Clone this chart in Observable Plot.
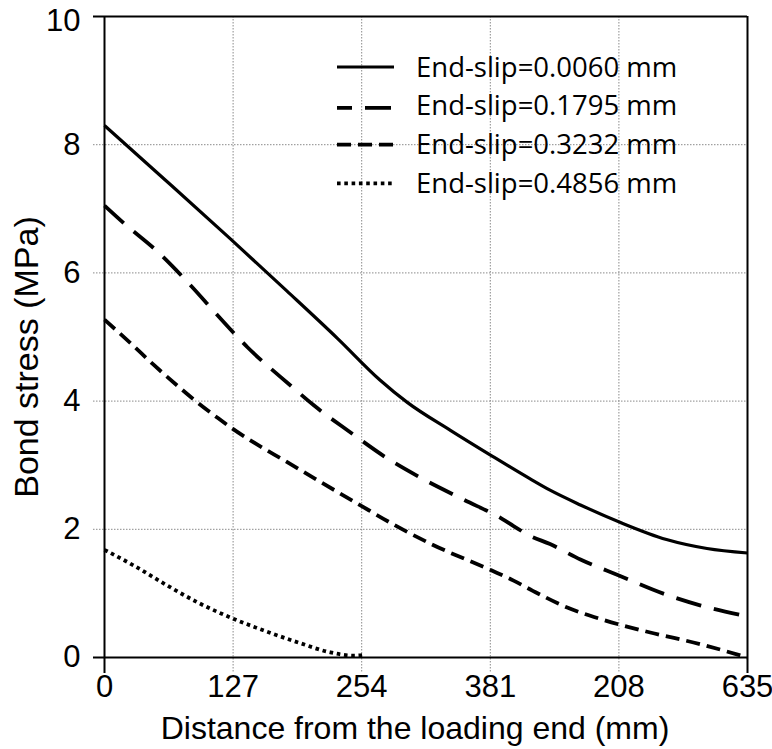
<!DOCTYPE html>
<html>
<head>
<meta charset="utf-8">
<script src="https://cdn.jsdelivr.net/npm/d3@7"></script>
<script src="https://cdn.jsdelivr.net/npm/@observablehq/plot@0.6"></script>
<style>
  html, body { margin: 0; padding: 0; background: white; }
  #chart { position: relative; width: 772px; height: 749px; }
</style>
</head>
<body>
<div id="chart"></div>
<script>
// ---- data ----
const xTicks = [0, 127, 254, 381, 508, 635];
const xTickLabels = ["0", "127", "254", "381", "208", "635"];
const yTicks = [0, 2, 4, 6, 8, 10];

const seriesNames = ["End-slip=0.0060 mm", "End-slip=0.1795 mm", "End-slip=0.3232 mm", "End-slip=0.4856 mm"];

const solidX = [0, 60, 123, 180, 230, 272, 299, 342, 382, 420, 440, 470, 509, 555, 595, 635];
const solidY = [8.3, 7.45, 6.55, 5.72, 4.98, 4.33, 3.98, 3.54, 3.15, 2.79, 2.61, 2.38, 2.11, 1.84, 1.70, 1.63];

const longX = [0, 19.5, 52.5, 83.6, 111.6, 141.2, 184, 207, 243, 278, 315, 355, 393, 404, 420, 440, 470, 508, 553, 589, 635];
const longY = [7.05, 6.77, 6.33, 5.83, 5.34, 4.84, 4.24, 3.93, 3.51, 3.12, 2.78, 2.46, 2.16, 2.05, 1.9, 1.77, 1.53, 1.28, 0.99, 0.81, 0.64];

const shortX = [0, 26, 49, 72, 88.5, 111.6, 126.4, 151, 177, 210, 251, 286, 324, 382, 404, 423, 457, 490, 539, 588, 635];
const shortY = [5.27, 4.9, 4.56, 4.24, 4.02, 3.74, 3.57, 3.32, 3.08, 2.77, 2.39, 2.07, 1.76, 1.36, 1.2, 1.04, 0.78, 0.60, 0.39, 0.21, 0.0];

const dotX = [0, 29.4, 62.3, 91.9, 126.4, 157.6, 192, 223, 246, 257];
const dotY = [1.68, 1.43, 1.12, 0.86, 0.61, 0.42, 0.23, 0.08, 0.03, 0.04];

const xTitle = "Distance from the loading end (mm)";
const yTitle = "Bond stress (MPa)";

// ---- build tables ----
const toRows = (xs, ys) => xs.map((x, i) => ({x, y: ys[i]}));
const styles = [
  {strokeWidth: 3.2, strokeDasharray: null},
  {strokeWidth: 3.8, strokeDasharray: "26,13"},
  {strokeWidth: 3.8, strokeDasharray: "14,7"},
  {strokeWidth: 3.8, strokeDasharray: "3.6,3.7"}
];
const seriesData = [toRows(solidX, solidY), toRows(longX, longY), toRows(shortX, shortY), toRows(dotX, dotY)];

const gridStyle = {stroke: "#8a8a8a", strokeWidth: 1, strokeDasharray: "1.5,1.5"};

const lineMarks = seriesData.map((rows, i) => Plot.line(rows, {
  x: "x", y: "y", curve: "monotone-x", stroke: "black",
  strokeWidth: styles[i].strokeWidth,
  strokeDasharray: styles[i].strokeDasharray,
  strokeLinecap: "butt", strokeLinejoin: "round"
}));

const yAxisOpts = {tickSize: 0, tickPadding: 24, fontSize: 31, label: null, tickFormat: d => String(d)};

const plot = Plot.plot({
  width: 772, height: 749,
  marginLeft: 104, marginRight: 25, marginTop: 16, marginBottom: 92,
  x: {domain: [0, 635]},
  y: {domain: [0, 10]},
  style: {fontFamily: "'Liberation Sans', Arial, sans-serif", background: "white", overflow: "visible", color: "black"},
  marks: [
    Plot.ruleX(xTicks.slice(1, -1), {...gridStyle, insetBottom: -16}),
    Plot.ruleY(yTicks.slice(1, -1), {...gridStyle, insetLeft: -11}),
    ...lineMarks,
    Plot.ruleX([xTicks[0], xTicks[xTicks.length - 1]], {stroke: "black", strokeWidth: 2, insetBottom: -16}),
    Plot.ruleY([yTicks[0], yTicks[yTicks.length - 1]], {stroke: "black", strokeWidth: 2, insetLeft: -11}),
    Plot.axisX(xTicks, {tickSize: 0, tickPadding: 17, fontSize: 31, label: null,
      tickFormat: d => xTickLabels[xTicks.indexOf(d)]}),
    Plot.axisY(yTicks.slice(0, -1), yAxisOpts),
    Plot.axisY(yTicks.slice(-1), {...yAxisOpts, dy: 5}),
    Plot.text([xTitle], {text: d => d, frameAnchor: "bottom", dx: -11, dy: 81, lineAnchor: "bottom", fontSize: 32}),
    Plot.text([yTitle], {text: d => d, frameAnchor: "left", textAnchor: "middle", rotate: -90, dx: -77, dy: 20, lineAnchor: "middle", fontSize: 34})
  ]
});
document.getElementById("chart").appendChild(plot);

// ---- legend (inside plot area, top right) ----
const svg = d3.select(plot);
const lg = svg.append("g").attr("class", "legend").attr("text-anchor", "start");
const rowY0 = 67, rowStep = 38.8;
seriesNames.forEach((name, i) => {
  const cy = rowY0 + i * rowStep;
  lg.append("line")
    .attr("x1", 337).attr("x2", 394).attr("y1", cy + (i === 1 ? 2 : 0)).attr("y2", cy + (i === 1 ? 2 : 0))
    .attr("stroke", "black")
    .attr("stroke-width", styles[i].strokeWidth)
    .attr("stroke-dasharray", styles[i].strokeDasharray)
    .attr("stroke-dashoffset", i === 1 ? 11 : 0)
    .attr("stroke-linecap", "butt");
  lg.append("text")
    .attr("x", 416).attr("y", cy)
    .attr("dy", "0.35em")
    .attr("text-anchor", "start")
    .attr("font-family", "'Open Sans', 'Noto Sans', sans-serif")
    .attr("font-size", 27.5)
    .attr("fill", "black")
    .text(name);
});
</script>
</body>
</html>
